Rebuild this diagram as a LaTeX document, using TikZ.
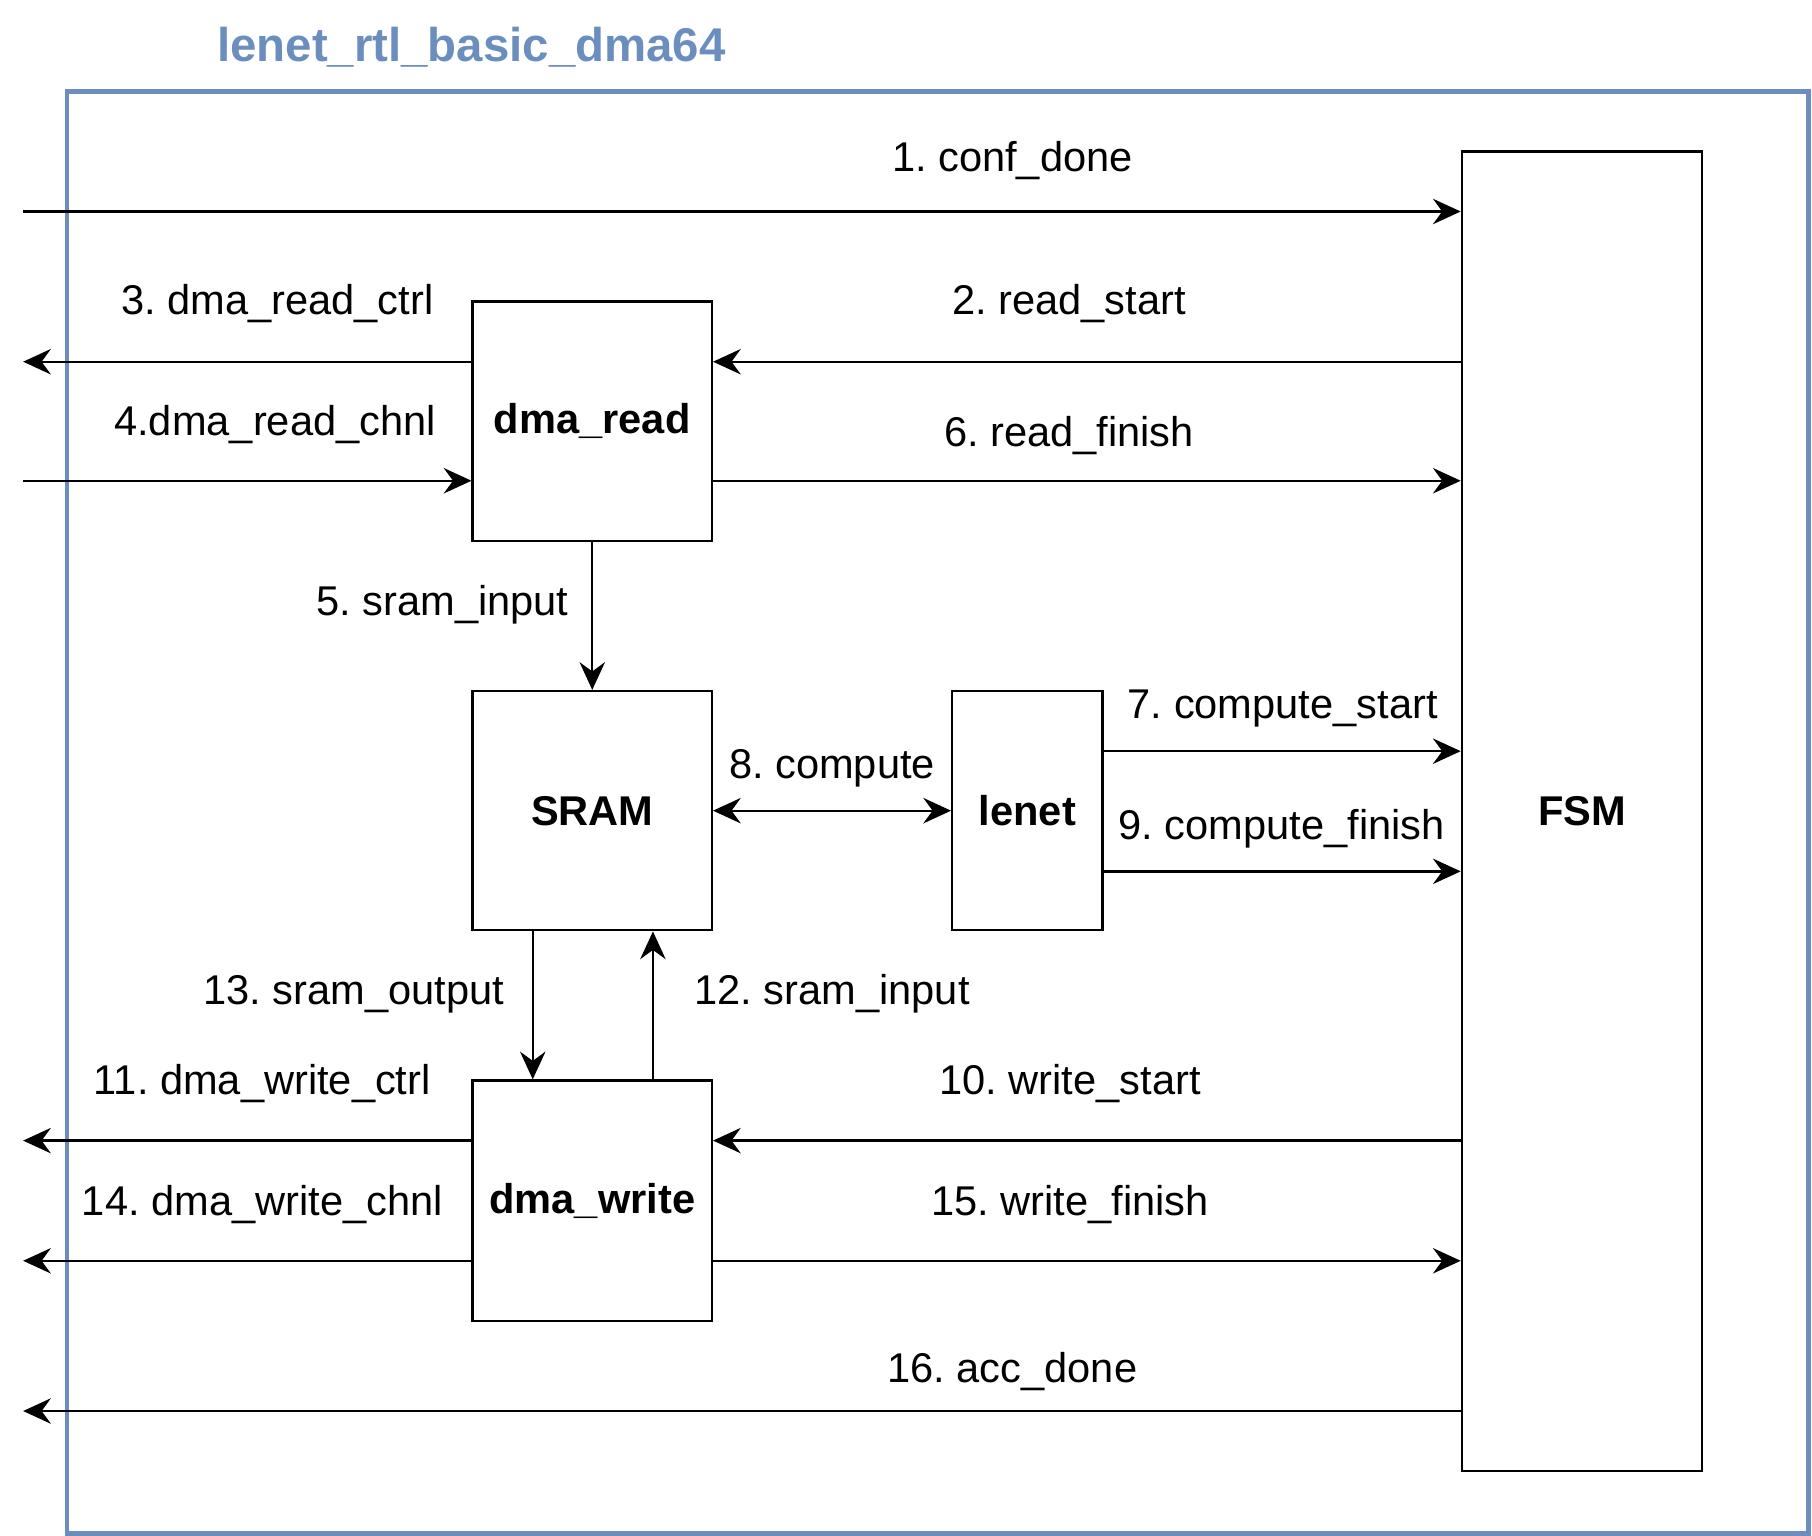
\documentclass[tikz,border=0pt]{standalone}
\usepackage{fontspec}
\setmainfont{Liberation Sans}
\usetikzlibrary{arrows.meta}
\definecolor{frameblue}{HTML}{6C8EBF}
\frenchspacing

\begin{document}
\begin{tikzpicture}
      [x=0.5pt,y=-0.5pt,line width=1pt,>={Stealth[length=12pt,width=11pt,inset=4pt]},
       every node/.style={inner sep=0pt, font=\fontsize{18}{21}\selectfont},
       block/.style={draw, font=\fontsize{18}{21}\selectfont\bfseries}]
    \useasboundingbox (0,0) rectangle (1568,1329);

    \node[text=frameblue, font=\fontsize{20.5}{24}\selectfont\bfseries] (title) at (408,41) {lenet\_rtl\_basic\_dma64};
    \node[draw=frameblue, line width=2pt, minimum width=753.5pt, minimum height=624pt] (top) at (811.5,703) {};

    \node[block, minimum width=103.5pt, minimum height=103.5pt] (dmard) at (512.5,364.5) {dma\_read};
    \node[block, minimum width=103.5pt, minimum height=103.5pt] (sram) at (512.5,701.5) {SRAM};
    \node[block, minimum width=65pt, minimum height=103.5pt] (lenet) at (889,701.5) {lenet};
    \node[block, minimum width=103.5pt, minimum height=104pt] (dmawr) at (512.5,1039) {dma\_write};
    \node[block, minimum width=104pt, minimum height=571pt] (fsm) at (1369,702) {FSM};

    \node (l1) at (876,139) {1. conf\_done};
    \node (l2) at (925,263) {2. read\_start};
    \node (l3) at (240,263) {3. dma\_read\_ctrl};
    \node (l4) at (238,367) {4.dma\_read\_chnl};
    \node (l5) at (383,523) {5. sram\_input};
    \node (l6) at (925,377) {6. read\_finish};
    \node (l7) at (1110,613) {7. compute\_start};
    \node (l8) at (720,665) {8. compute};
    \node (l9) at (1109,717) {9. compute\_finish};
    \node (l10) at (926,938) {10. write\_start};
    \node (l11) at (227,938) {11. dma\_write\_ctrl};
    \node (l12) at (720,860) {12. sram\_input};
    \node (l13) at (306,860) {13. sram\_output};
    \node (l14) at (227,1042) {14. dma\_write\_chnl};
    \node (l15) at (926,1042) {15. write\_finish};
    \node (l16) at (876,1187) {16. acc\_done};

    \foreach \n/\y in {conf/183, rdctrl/313, rdchnl/416, cstart/650, cfinish/754, wrctrl/987, wrchnl/1091, acc/1221}
      \coordinate (\n) at (20,\y);
    \coordinate (sout) at (461,0);
    \coordinate (sin) at (565,0);

    \draw[->] (conf) -- (conf -| fsm.west);
    \draw[->] (rdctrl -| fsm.west) -- (rdctrl -| dmard.east);
    \draw[->] (rdctrl -| dmard.west) -- (rdctrl);
    \draw[->] (rdchnl) -- (rdchnl -| dmard.west);
    \draw[->] (rdchnl -| dmard.east) -- (rdchnl -| fsm.west);
    \draw[->] (dmard) -- (sram);
    \draw[<->] (sram) -- (lenet);
    \draw[->] (cstart -| lenet.east) -- (cstart -| fsm.west);
    \draw[->] (cfinish -| lenet.east) -- (cfinish -| fsm.west);
    \draw[->] (sout |- sram.south) -- (sout |- dmawr.north);
    \draw[->] (sin |- dmawr.north) -- (sin |- sram.south);
    \draw[->] (wrctrl -| fsm.west) -- (wrctrl -| dmawr.east);
    \draw[->] (wrctrl -| dmawr.west) -- (wrctrl);
    \draw[->] (wrchnl -| dmawr.east) -- (wrchnl -| fsm.west);
    \draw[->] (wrchnl -| dmawr.west) -- (wrchnl);
    \draw[->] (acc -| fsm.west) -- (acc);
\end{tikzpicture}
\end{document}
